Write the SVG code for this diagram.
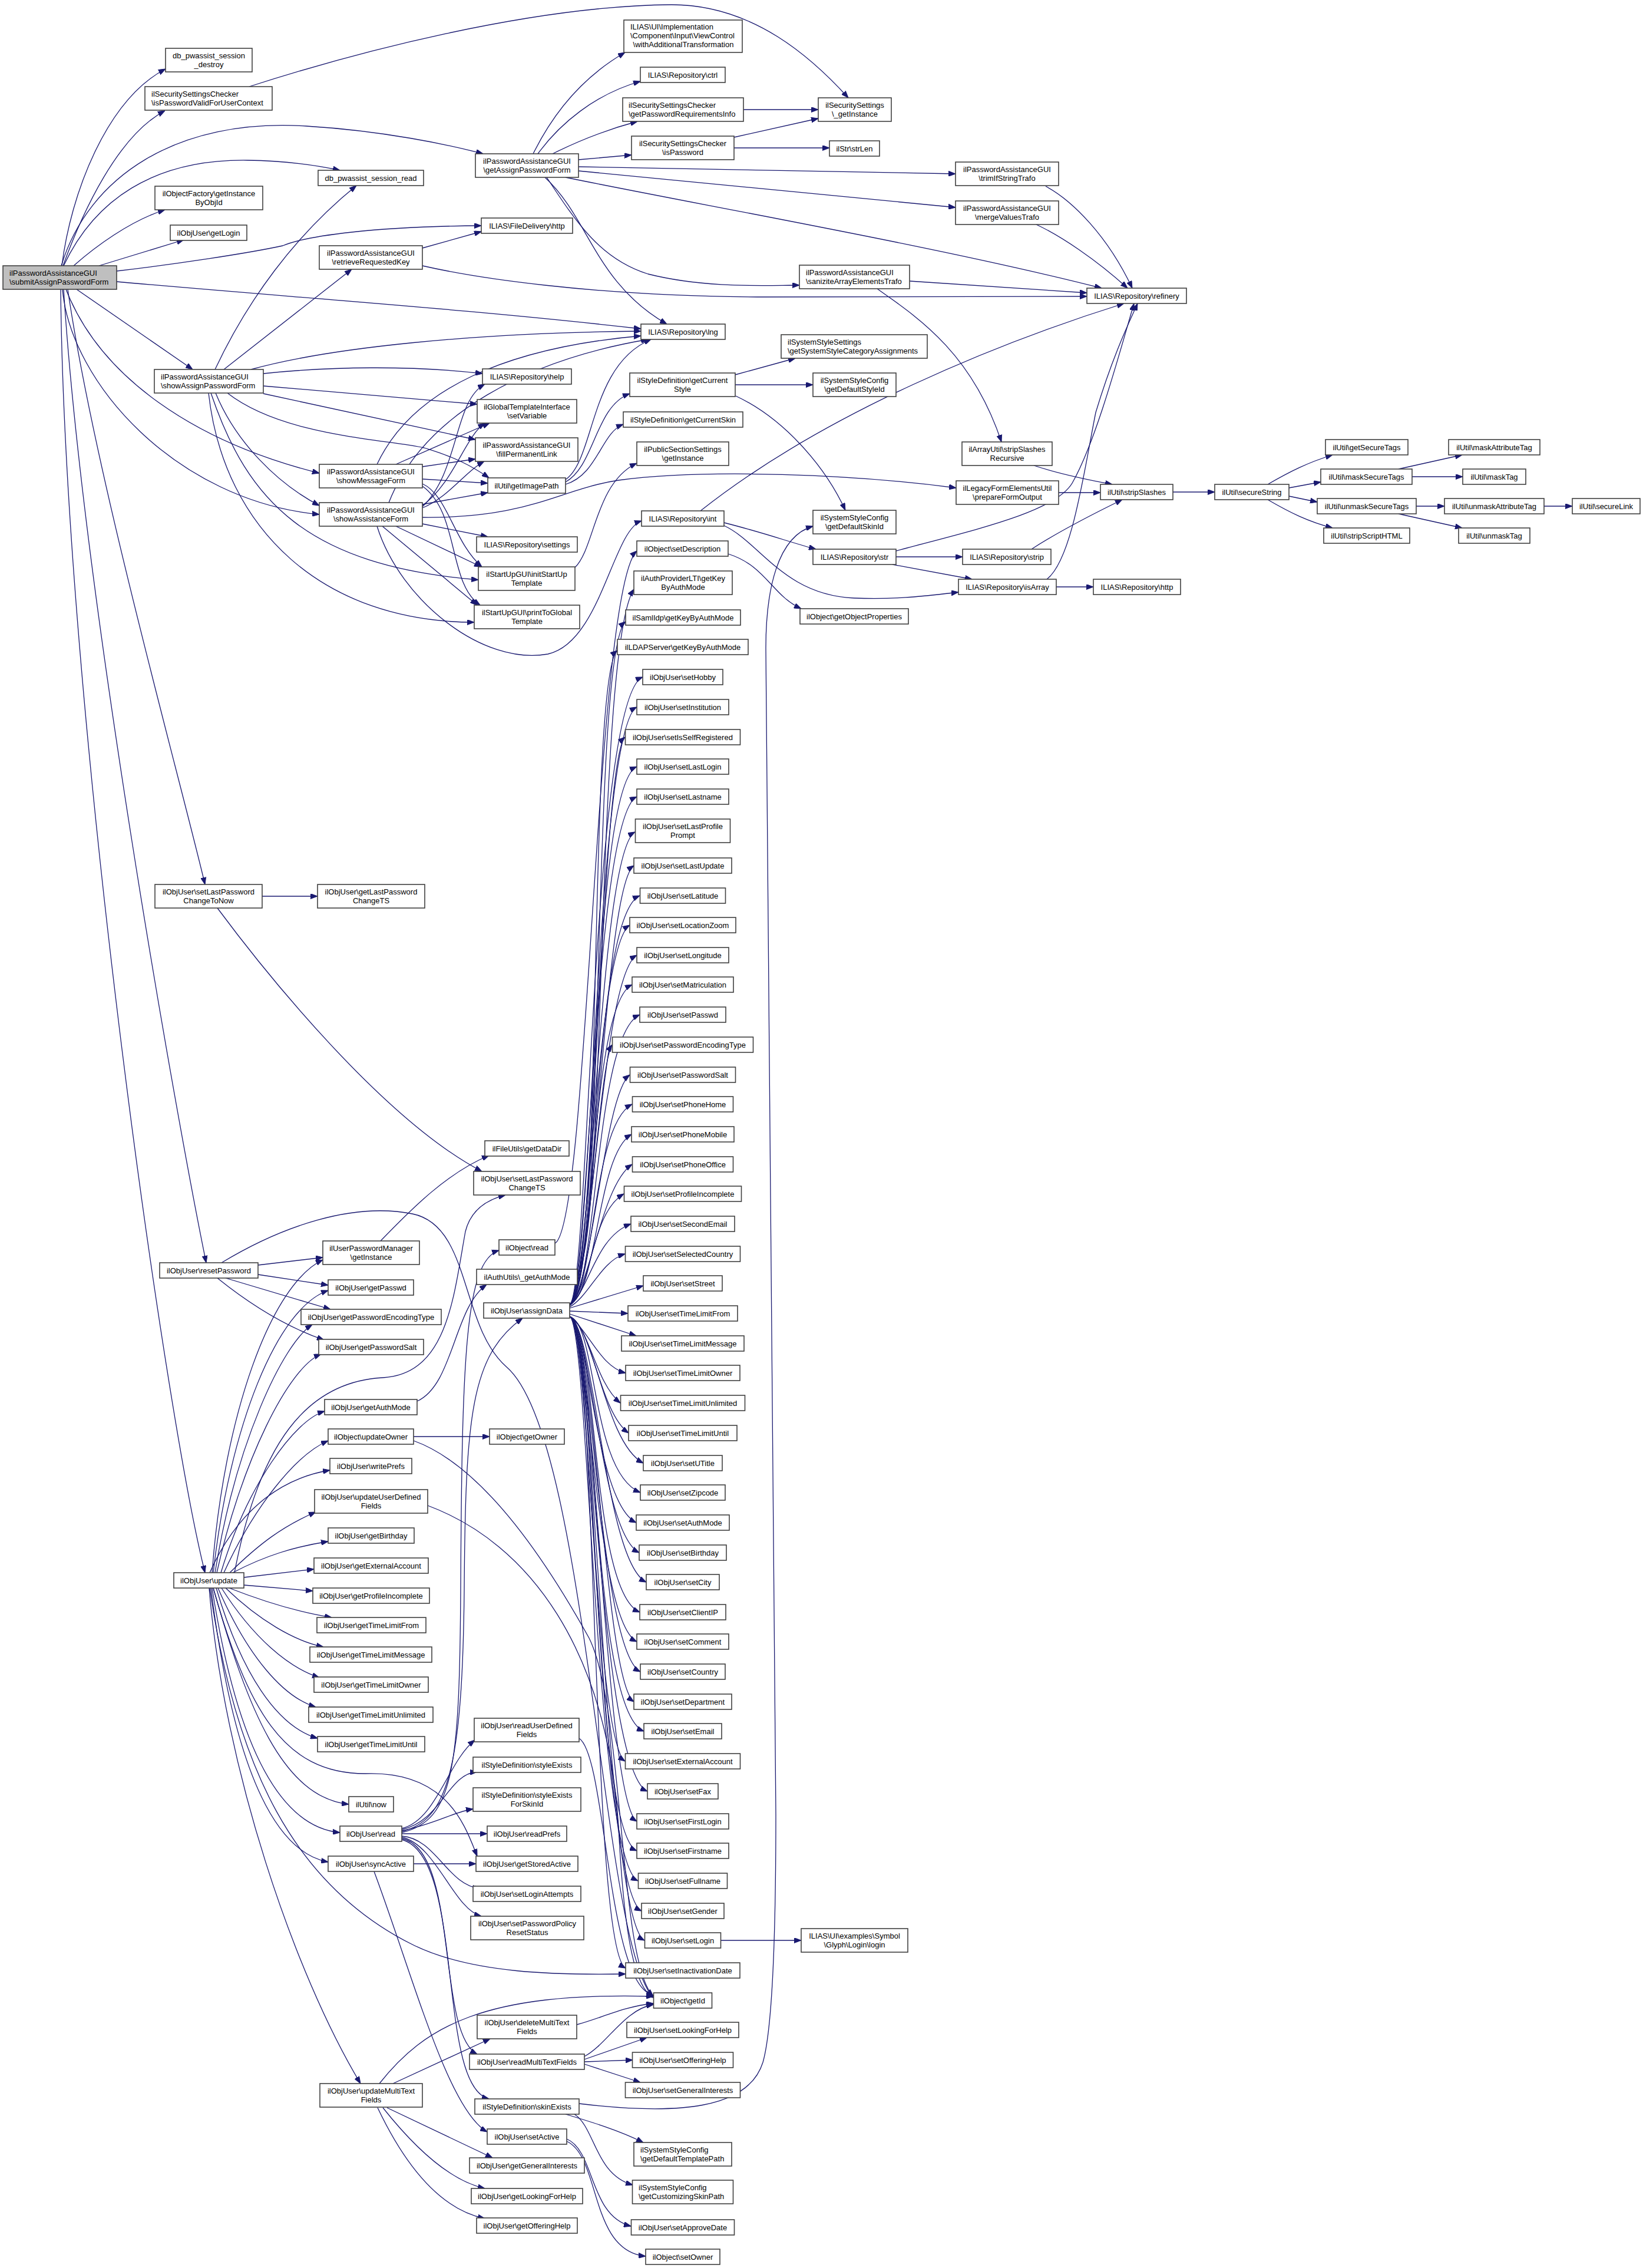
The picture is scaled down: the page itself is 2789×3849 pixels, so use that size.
<svg xmlns="http://www.w3.org/2000/svg" width="2789" height="3849" viewBox="0 0 2789 3849">
<defs>
<marker id="ah" viewBox="0 0 12 9" refX="12" refY="4.5" markerWidth="12" markerHeight="9" markerUnits="userSpaceOnUse" orient="auto"><path d="M0,0 L12,4.5 L0,9 z" fill="#191970" stroke="#191970" stroke-width="1"/></marker>
<style>
.n rect{fill:#fff;stroke:#404040;stroke-width:1.6}
.n rect.g{fill:#bfbfbf}
.n text{font-family:"Liberation Sans",Arial,sans-serif;font-size:13px;fill:#000;text-anchor:middle}
.n text.l{text-anchor:start}
#edges path{fill:none;stroke:#191970;stroke-width:1.3;marker-end:url(#ah)}
</style>
</defs>
<rect width="2789" height="3849" fill="#fff"/>
<g id="edges">
<path d="M105,451 C120,330 180,170 281,117"/>
<path d="M107,451 C140,360 200,230 280,188"/>
<path d="M104,451 C150,300 300,200 520,214 C650,222 760,245 820,261"/>
<path d="M108,451 C160,340 260,270 420,272 C490,273 540,281 577,289"/>
<path d="M125,451 C160,420 220,375 280,356"/>
<path d="M168,451 L312,407"/>
<path d="M198,460 C300,448 420,430 480,417 C520,400 640,384 817,383"/>
<path d="M198,478 C500,505 800,525 1088,558"/>
<path d="M130,491 L327,627"/>
<path d="M112,491 C170,640 330,750 542,803"/>
<path d="M106,491 C120,650 300,850 542,873"/>
<path d="M115,491 C160,800 300,1300 348,1501"/>
<path d="M108,491 C140,1000 300,1900 350,2143"/>
<path d="M103,491 C110,1200 280,2400 348,2669"/>
<path d="M423,147 C600,90 900,10 1140,8 C1280,8 1380,100 1440,166"/>
<path d="M905,261 C940,190 990,130 1061,89"/>
<path d="M913,261 C950,210 1010,160 1087,138"/>
<path d="M938,261 C980,240 1030,220 1082,206"/>
<path d="M982,271 L1072,263"/>
<path d="M982,283 L1622,295"/>
<path d="M982,290 L1622,352"/>
<path d="M960,301 C1200,350 1600,420 1870,489"/>
<path d="M928,301 C980,380 1020,440 1100,465 C1200,490 1300,484 1357,484"/>
<path d="M925,301 C1000,370 1010,480 1132,550"/>
<path d="M1246,233 L1389,201"/>
<path d="M1246,251 L1408,251"/>
<path d="M1262,186 L1389,186"/>
<path d="M1775,316 C1820,340 1880,400 1922,489"/>
<path d="M1759,381 C1800,400 1860,440 1914,489"/>
<path d="M1544,477 L1845,497"/>
<path d="M1489,490 C1560,540 1650,600 1700,750"/>
<path d="M717,451 C800,470 1000,503 1300,504 L1845,503"/>
<path d="M717,421 L817,393"/>
<path d="M365,627 C420,510 500,400 605,315"/>
<path d="M380,627 L597,457"/>
<path d="M426,627 C560,590 800,565 1088,562"/>
<path d="M447,634 C560,622 700,620 819,634"/>
<path d="M447,655 L810,686"/>
<path d="M447,668 L807,746"/>
<path d="M386,667 C480,740 650,745 720,760 C770,775 800,790 830,811"/>
<path d="M366,667 C400,750 470,820 542,858"/>
<path d="M358,667 C420,850 520,960 812,984"/>
<path d="M354,667 C380,900 550,1056 805,1056"/>
<path d="M640,788 C700,660 860,590 1088,570"/>
<path d="M672,788 L831,718"/>
<path d="M717,792 L807,779"/>
<path d="M717,813 L828,820"/>
<path d="M717,821 C760,840 770,920 818,962"/>
<path d="M717,825 C780,870 760,990 815,1027"/>
<path d="M660,853 C720,700 900,610 1100,576"/>
<path d="M717,860 C780,800 770,680 823,652"/>
<path d="M717,858 C770,820 790,740 823,718"/>
<path d="M717,862 C760,845 790,800 822,783"/>
<path d="M717,856 L828,836"/>
<path d="M717,889 L828,911"/>
<path d="M672,893 L817,962"/>
<path d="M649,893 L810,1027"/>
<path d="M717,878 C900,880 950,830 1050,815 C1200,795 1450,805 1623,828"/>
<path d="M640,893 C680,1020 820,1130 930,1110 C1020,1090 1040,900 1089,884"/>
<path d="M960,814 C1010,780 1000,620 1105,576"/>
<path d="M960,818 C1010,790 1010,690 1069,668"/>
<path d="M960,822 C1015,805 1020,735 1058,720"/>
<path d="M976,963 C1010,930 1010,820 1081,786"/>
<path d="M1248,636 L1350,608"/>
<path d="M1248,653 L1380,653"/>
<path d="M1249,672 C1330,710 1400,790 1435,866"/>
<path d="M1189,867 C1400,700 1700,580 1908,515"/>
<path d="M1229,887 C1300,905 1340,920 1385,932"/>
<path d="M1229,892 C1290,920 1330,1010 1450,1015 C1530,1018 1580,1010 1627,1005"/>
<path d="M1521,945 L1634,945"/>
<path d="M1515,958 L1650,983"/>
<path d="M1521,935 C1650,900 1790,870 1820,820 C1860,750 1900,600 1925,515"/>
<path d="M1751,932 C1800,900 1860,870 1905,848"/>
<path d="M1793,996 L1856,996"/>
<path d="M1777,983 C1820,950 1840,800 1860,700 C1890,600 1920,540 1931,515"/>
<path d="M1755,790 C1800,805 1850,815 1888,822"/>
<path d="M1797,836 L1868,836"/>
<path d="M1991,835 L2062,835"/>
<path d="M2152,822 C2190,800 2220,785 2262,772"/>
<path d="M2188,828 L2242,818"/>
<path d="M2188,842 L2236,852"/>
<path d="M2152,848 C2190,870 2220,885 2262,896"/>
<path d="M2374,796 L2482,772"/>
<path d="M2397,809 L2483,809"/>
<path d="M2404,859 L2452,859"/>
<path d="M2374,872 L2482,896"/>
<path d="M2621,859 L2669,859"/>
<path d="M1236,940 C1300,960 1310,1010 1360,1033"/>
<path d="M983,3570 C1150,3590 1270,3580 1295,3500 C1315,3430 1317,3200 1317,3080 L1300,1100 C1300,1000 1320,910 1380,893"/>
<path d="M960,3588 C1000,3600 1050,3615 1092,3636"/>
<path d="M975,3588 C1010,3610 1010,3690 1074,3708"/>
<path d="M962,3630 C1010,3650 1000,3760 1071,3778"/>
<path d="M962,3634 C1020,3660 1000,3820 1096,3829"/>
<path d="M1224,3293 L1360,3293"/>
<path d="M445,1521 L539,1521"/>
<path d="M369,1541 C450,1650 650,1900 818,1988"/>
<path d="M438,2147 L548,2134"/>
<path d="M438,2163 L557,2181"/>
<path d="M383,2169 L561,2222"/>
<path d="M369,2169 C420,2210 480,2250 550,2274"/>
<path d="M376,2143 C480,2080 600,2040 700,2060 C800,2080 780,2250 860,2320 C1000,2440 1020,3300 1109,3390"/>
<path d="M646,2106 C700,2050 760,1990 830,1961"/>
<path d="M708,2378 C770,2350 770,2220 826,2180"/>
<path d="M702,2438 L831,2438"/>
<path d="M702,2445 C800,2480 900,2600 1000,2780 C1060,2900 1050,3330 1109,3388"/>
<path d="M356,2669 C400,2570 470,2510 560,2495"/>
<path d="M390,2669 C440,2620 480,2590 536,2566"/>
<path d="M395,2669 C450,2640 500,2625 557,2616"/>
<path d="M414,2677 L533,2663"/>
<path d="M414,2690 L531,2700"/>
<path d="M389,2695 C440,2715 500,2735 563,2745"/>
<path d="M383,2695 C440,2750 500,2785 549,2795"/>
<path d="M376,2695 C430,2780 490,2830 542,2847"/>
<path d="M370,2695 C420,2810 480,2880 536,2897"/>
<path d="M367,2695 C410,2840 470,2930 539,2950"/>
<path d="M362,2695 C420,2900 480,3010 620,3010 C760,3005 790,3100 810,3150"/>
<path d="M362,2695 C420,2900 480,3050 592,3062"/>
<path d="M360,2695 C400,2950 470,3100 577,3110"/>
<path d="M358,2695 C390,2950 450,3140 557,3160"/>
<path d="M356,2695 C400,3000 500,3200 700,3300 C800,3350 950,3352 1062,3350"/>
<path d="M355,2695 C380,3000 500,3350 612,3536"/>
<path d="M360,2669 C380,2400 460,2180 548,2138"/>
<path d="M362,2669 C390,2420 470,2220 557,2190"/>
<path d="M365,2669 C400,2450 480,2280 530,2248"/>
<path d="M368,2669 C410,2480 490,2320 545,2298"/>
<path d="M375,2669 C420,2520 500,2410 551,2395"/>
<path d="M380,2669 C430,2560 500,2470 557,2445"/>
<path d="M398,2669 C440,2450 520,2345 650,2338 C760,2332 770,2200 790,2090 C800,2050 830,2035 858,2028"/>
<path d="M682,3103 C740,3090 760,2990 806,2953"/>
<path d="M682,3105 C750,3090 760,3010 810,3007"/>
<path d="M682,3107 C740,3095 770,3075 803,3070"/>
<path d="M682,3112 L827,3112"/>
<path d="M682,3116 C740,3120 760,3200 815,3205"/>
<path d="M682,3118 C740,3130 770,3240 817,3252"/>
<path d="M682,3120 C780,3140 740,3450 810,3486"/>
<path d="M682,3122 C790,3150 740,3540 830,3562"/>
<path d="M682,3108 C760,3090 785,3000 788,2700 C790,2400 800,2300 887,2237"/>
<path d="M682,3110 C770,3090 780,3000 782,2700 C784,2300 790,2140 847,2122"/>
<path d="M983,2950 C1030,2980 1030,3370 1109,3386"/>
<path d="M979,3436 C1020,3425 1060,3405 1109,3400"/>
<path d="M992,3490 C1030,3470 1060,3410 1109,3402"/>
<path d="M992,3495 L1098,3458"/>
<path d="M992,3499 L1074,3496"/>
<path d="M992,3503 L1087,3534"/>
<path d="M667,3536 L832,3460"/>
<path d="M644,3536 C720,3440 820,3380 1109,3388"/>
<path d="M657,3577 L836,3662"/>
<path d="M650,3577 C700,3640 760,3700 823,3714"/>
<path d="M641,3577 C690,3680 750,3750 823,3765"/>
<path d="M702,3163 L808,3163"/>
<path d="M635,3176 C700,3350 760,3580 827,3618"/>
<path d="M726,2555 C900,2620 1030,2800 1050,3100 C1060,3300 1080,3375 1109,3390"/>
<path d="M942,2110 C1000,2080 1010,1000 1081,935"/>
<path d="M980,2160 C1030,2120 1010,1100 1076,1000"/>
<path d="M980,2162 C1025,2120 1005,1100 1062,1055"/>
<path d="M980,2164 C1020,2120 1000,1140 1048,1104"/>
<path d="M967,2214 C1000,2195 1004,1184 1091,1149"/>
<path d="M967,2214 C1005,2195 1012,1235 1081,1200"/>
<path d="M967,2214 C1010,2195 1020,1286 1061,1251"/>
<path d="M967,2214 C1015,2195 1000,1336 1081,1301"/>
<path d="M967,2214 C1000,2195 1008,1387 1081,1352"/>
<path d="M967,2214 C1005,2195 1016,1445 1078,1412"/>
<path d="M967,2214 C1010,2195 1024,1504 1076,1469"/>
<path d="M967,2214 C1015,2195 1004,1555 1086,1520"/>
<path d="M967,2214 C1000,2195 1012,1605 1069,1570"/>
<path d="M967,2214 C1005,2195 1020,1656 1081,1621"/>
<path d="M967,2214 C1010,2195 1000,1706 1073,1671"/>
<path d="M967,2214 C1015,2195 1008,1757 1086,1722"/>
<path d="M967,2214 C1000,2195 1016,1808 1039,1773"/>
<path d="M967,2214 C1005,2195 1024,1859 1069,1824"/>
<path d="M967,2214 C1010,2195 1004,1909 1073,1874"/>
<path d="M967,2214 C1015,2195 1012,1960 1072,1925"/>
<path d="M967,2214 C1000,2195 1020,2011 1073,1976"/>
<path d="M967,2214 C1005,2195 1000,2061 1059,2026"/>
<path d="M967,2216 C1000,2190 1010,2100 1071,2077"/>
<path d="M967,2218 C1000,2200 1020,2140 1061,2128"/>
<path d="M967,2220 L1092,2182"/>
<path d="M967,2225 L1066,2229"/>
<path d="M967,2230 L1080,2267"/>
<path d="M967,2234 C1000,2260 1020,2320 1062,2330"/>
<path d="M967,2234 C1000,2250 1010,2346 1053,2381"/>
<path d="M967,2234 C1005,2250 1018,2397 1067,2432"/>
<path d="M967,2234 C1010,2250 1026,2448 1092,2483"/>
<path d="M967,2234 C1015,2250 1002,2498 1087,2533"/>
<path d="M967,2234 C1000,2250 1010,2549 1080,2584"/>
<path d="M967,2234 C1005,2250 1018,2600 1085,2635"/>
<path d="M967,2234 C1010,2250 1026,2650 1097,2685"/>
<path d="M967,2234 C1015,2250 1002,2701 1086,2736"/>
<path d="M967,2234 C1000,2250 1010,2751 1081,2786"/>
<path d="M967,2234 C1005,2250 1018,2802 1087,2837"/>
<path d="M967,2234 C1010,2250 1026,2853 1076,2888"/>
<path d="M967,2234 C1015,2250 1002,2903 1093,2938"/>
<path d="M967,2234 C1000,2250 1010,2954 1061,2989"/>
<path d="M967,2234 C1005,2250 1018,3005 1099,3040"/>
<path d="M967,2234 C1010,2250 1026,3056 1081,3091"/>
<path d="M967,2234 C1015,2250 1002,3106 1081,3141"/>
<path d="M967,2234 C1000,2250 1010,3157 1083,3192"/>
<path d="M967,2234 C1005,2250 1018,3208 1089,3243"/>
<path d="M967,2234 C1010,2250 1026,3258 1094,3293"/>
<path d="M967,2234 C1015,2250 1002,3309 1062,3340"/>
</g>
<g id="n0" class="n"><rect class="g" x="5" y="451" width="193" height="40"/><text class="l" x="16" y="468">ilPasswordAssistanceGUI</text><text class="l" x="16" y="483">\submitAssignPasswordForm</text></g>
<g id="n1" class="n"><rect x="281" y="82" width="147" height="40"/><text x="354.5" y="99">db_pwassist_session</text><text x="354.5" y="114">_destroy</text></g>
<g id="n2" class="n"><rect x="246" y="147" width="216" height="40"/><text class="l" x="257" y="164">ilSecuritySettingsChecker</text><text class="l" x="257" y="179">\isPasswordValidForUserContext</text></g>
<g id="n3" class="n"><rect x="263" y="316" width="183" height="40"/><text x="354.5" y="333">ilObjectFactory\getInstance</text><text x="354.5" y="348">ByObjId</text></g>
<g id="n4" class="n"><rect x="289" y="382" width="130" height="26"/><text x="354" y="399.5">ilObjUser\getLogin</text></g>
<g id="n5" class="n"><rect x="540" y="289" width="179" height="26"/><text x="629.5" y="306.5">db_pwassist_session_read</text></g>
<g id="n6" class="n"><rect x="542" y="417" width="175" height="40"/><text x="629.5" y="434">ilPasswordAssistanceGUI</text><text x="629.5" y="449">\retrieveRequestedKey</text></g>
<g id="n7" class="n"><rect x="262" y="627" width="185" height="40"/><text class="l" x="273" y="644">ilPasswordAssistanceGUI</text><text class="l" x="273" y="659">\showAssignPasswordForm</text></g>
<g id="n8" class="n"><rect x="807" y="261" width="175" height="40"/><text x="894.5" y="278">ilPasswordAssistanceGUI</text><text x="894.5" y="293">\getAssignPasswordForm</text></g>
<g id="n9" class="n"><rect x="817" y="370" width="155" height="26"/><text x="894.5" y="387.5">ILIAS\FileDelivery\http</text></g>
<g id="n10" class="n"><rect x="1059" y="34" width="201" height="55"/><text class="l" x="1070" y="50">ILIAS\UI\Implementation</text><text class="l" x="1070" y="65">\Component\Input\ViewControl</text><text x="1160" y="80">\withAdditionalTransformation</text></g>
<g id="n11" class="n"><rect x="1087" y="114" width="144" height="26"/><text x="1159" y="131.5">ILIAS\Repository\ctrl</text></g>
<g id="n12" class="n"><rect x="1057" y="166" width="205" height="40"/><text class="l" x="1067" y="183">ilSecuritySettingsChecker</text><text class="l" x="1067" y="198">\getPasswordRequirementsInfo</text></g>
<g id="n13" class="n"><rect x="1072" y="231" width="174" height="40"/><text x="1159" y="248">ilSecuritySettingsChecker</text><text x="1159" y="263">\isPassword</text></g>
<g id="n14" class="n"><rect x="1389" y="166" width="124" height="40"/><text x="1451" y="183">ilSecuritySettings</text><text x="1451" y="198">\_getInstance</text></g>
<g id="n15" class="n"><rect x="1408" y="239" width="85" height="26"/><text x="1450.5" y="256.5">ilStr\strLen</text></g>
<g id="n16" class="n"><rect x="1622" y="275" width="175" height="40"/><text x="1709.5" y="292">ilPasswordAssistanceGUI</text><text x="1709.5" y="307">\trimIfStringTrafo</text></g>
<g id="n17" class="n"><rect x="1622" y="341" width="175" height="40"/><text x="1709.5" y="358">ilPasswordAssistanceGUI</text><text x="1709.5" y="373">\mergeValuesTrafo</text></g>
<g id="n18" class="n"><rect x="1845" y="489" width="169" height="26"/><text x="1929.5" y="506.5">ILIAS\Repository\refinery</text></g>
<g id="n19" class="n"><rect x="1357" y="450" width="187" height="40"/><text class="l" x="1368" y="467">ilPasswordAssistanceGUI</text><text class="l" x="1368" y="482">\saniziteArrayElementsTrafo</text></g>
<g id="n20" class="n"><rect x="1088" y="550" width="143" height="26"/><text x="1159.5" y="567.5">ILIAS\Repository\lng</text></g>
<g id="n21" class="n"><rect x="1326" y="568" width="248" height="40"/><text class="l" x="1337" y="585">ilSystemStyleSettings</text><text class="l" x="1337" y="600">\getSystemStyleCategoryAssignments</text></g>
<g id="n22" class="n"><rect x="1069" y="633" width="179" height="40"/><text x="1158.5" y="650">ilStyleDefinition\getCurrent</text><text x="1158.5" y="665">Style</text></g>
<g id="n23" class="n"><rect x="1380" y="633" width="141" height="40"/><text x="1450.5" y="650">ilSystemStyleConfig</text><text x="1450.5" y="665">\getDefaultStyleId</text></g>
<g id="n24" class="n"><rect x="819" y="626" width="151" height="26"/><text x="894.5" y="643.5">ILIAS\Repository\help</text></g>
<g id="n25" class="n"><rect x="810" y="678" width="169" height="40"/><text x="894.5" y="695">ilGlobalTemplateInterface</text><text x="894.5" y="710">\setVariable</text></g>
<g id="n26" class="n"><rect x="807" y="743" width="174" height="40"/><text x="894" y="760">ilPasswordAssistanceGUI</text><text x="894" y="775">\fillPermanentLink</text></g>
<g id="n27" class="n"><rect x="542" y="788" width="175" height="40"/><text x="629.5" y="805">ilPasswordAssistanceGUI</text><text x="629.5" y="820">\showMessageForm</text></g>
<g id="n28" class="n"><rect x="828" y="811" width="132" height="26"/><text x="894" y="828.5">ilUtil\getImagePath</text></g>
<g id="n29" class="n"><rect x="542" y="853" width="175" height="40"/><text x="629.5" y="870">ilPasswordAssistanceGUI</text><text x="629.5" y="885">\showAssistanceForm</text></g>
<g id="n30" class="n"><rect x="809" y="911" width="171" height="26"/><text x="894.5" y="928.5">ILIAS\Repository\settings</text></g>
<g id="n31" class="n"><rect x="812" y="962" width="164" height="40"/><text x="894" y="979">ilStartUpGUI\initStartUp</text><text x="894" y="994">Template</text></g>
<g id="n32" class="n"><rect x="805" y="1027" width="179" height="40"/><text x="894.5" y="1044">ilStartUpGUI\printToGlobal</text><text x="894.5" y="1059">Template</text></g>
<g id="n33" class="n"><rect x="1058" y="699" width="203" height="26"/><text x="1159.5" y="716.5">ilStyleDefinition\getCurrentSkin</text></g>
<g id="n34" class="n"><rect x="1081" y="750" width="156" height="40"/><text x="1159" y="767">ilPublicSectionSettings</text><text x="1159" y="782">\getInstance</text></g>
<g id="n35" class="n"><rect x="1633" y="750" width="153" height="40"/><text x="1709.5" y="767">ilArrayUtil\stripSlashes</text><text x="1709.5" y="782">Recursive</text></g>
<g id="n36" class="n"><rect x="1623" y="816" width="174" height="40"/><text x="1710" y="833">ilLegacyFormElementsUtil</text><text x="1710" y="848">\prepareFormOutput</text></g>
<g id="n37" class="n"><rect x="1868" y="822" width="123" height="26"/><text x="1929.5" y="839.5">ilUtil\stripSlashes</text></g>
<g id="n38" class="n"><rect x="2062" y="822" width="126" height="26"/><text x="2125" y="839.5">ilUtil\secureString</text></g>
<g id="n39" class="n"><rect x="1089" y="867" width="140" height="26"/><text x="1159" y="884.5">ILIAS\Repository\int</text></g>
<g id="n40" class="n"><rect x="1380" y="866" width="141" height="40"/><text x="1450.5" y="883">ilSystemStyleConfig</text><text x="1450.5" y="898">\getDefaultSkinId</text></g>
<g id="n41" class="n"><rect x="1081" y="918" width="155" height="26"/><text x="1158.5" y="935.5">ilObject\setDescription</text></g>
<g id="n42" class="n"><rect x="1380" y="932" width="141" height="26"/><text x="1450.5" y="949.5">ILIAS\Repository\str</text></g>
<g id="n43" class="n"><rect x="1634" y="932" width="150" height="26"/><text x="1709" y="949.5">ILIAS\Repository\strip</text></g>
<g id="n44" class="n"><rect x="1076" y="969" width="167" height="40"/><text x="1159.5" y="986">ilAuthProviderLTI\getKey</text><text x="1159.5" y="1001">ByAuthMode</text></g>
<g id="n45" class="n"><rect x="1627" y="983" width="166" height="26"/><text x="1710" y="1000.5">ILIAS\Repository\isArray</text></g>
<g id="n46" class="n"><rect x="1856" y="983" width="148" height="26"/><text x="1930" y="1000.5">ILIAS\Repository\http</text></g>
<g id="n47" class="n"><rect x="1358" y="1033" width="184" height="26"/><text x="1450" y="1050.5">ilObject\getObjectProperties</text></g>
<g id="n48" class="n"><rect x="1062" y="1035" width="195" height="26"/><text x="1159.5" y="1052.5">ilSamlIdp\getKeyByAuthMode</text></g>
<g id="n49" class="n"><rect x="1048" y="1085" width="222" height="26"/><text x="1159" y="1102.5">ilLDAPServer\getKeyByAuthMode</text></g>
<g id="n50" class="n"><rect x="2250" y="746" width="140" height="26"/><text x="2320" y="763.5">ilUtil\getSecureTags</text></g>
<g id="n51" class="n"><rect x="2242" y="796" width="155" height="26"/><text x="2319.5" y="813.5">ilUtil\maskSecureTags</text></g>
<g id="n52" class="n"><rect x="2236" y="846" width="168" height="26"/><text x="2320" y="863.5">ilUtil\unmaskSecureTags</text></g>
<g id="n53" class="n"><rect x="2247" y="896" width="146" height="26"/><text x="2320" y="913.5">ilUtil\stripScriptHTML</text></g>
<g id="n54" class="n"><rect x="2459" y="746" width="155" height="26"/><text x="2536.5" y="763.5">ilUtil\maskAttributeTag</text></g>
<g id="n55" class="n"><rect x="2483" y="796" width="107" height="26"/><text x="2536.5" y="813.5">ilUtil\maskTag</text></g>
<g id="n56" class="n"><rect x="2452" y="846" width="169" height="26"/><text x="2536.5" y="863.5">ilUtil\unmaskAttributeTag</text></g>
<g id="n57" class="n"><rect x="2476" y="896" width="121" height="26"/><text x="2536.5" y="913.5">ilUtil\unmaskTag</text></g>
<g id="n58" class="n"><rect x="2669" y="846" width="115" height="26"/><text x="2726.5" y="863.5">ilUtil\secureLink</text></g>
<g id="n59" class="n"><rect x="1091" y="1136" width="136" height="26"/><text x="1159" y="1153.5">ilObjUser\setHobby</text></g>
<g id="n60" class="n"><rect x="1081" y="1187" width="156" height="26"/><text x="1159" y="1204.5">ilObjUser\setInstitution</text></g>
<g id="n61" class="n"><rect x="1061.5" y="1238" width="195" height="26"/><text x="1159" y="1255.5">ilObjUser\setIsSelfRegistered</text></g>
<g id="n62" class="n"><rect x="1081" y="1288" width="156" height="26"/><text x="1159" y="1305.5">ilObjUser\setLastLogin</text></g>
<g id="n63" class="n"><rect x="1081" y="1339" width="156" height="26"/><text x="1159" y="1356.5">ilObjUser\setLastname</text></g>
<g id="n64" class="n"><rect x="1078.5" y="1390" width="161" height="40"/><text x="1159" y="1407">ilObjUser\setLastProfile</text><text x="1159" y="1422">Prompt</text></g>
<g id="n65" class="n"><rect x="1076" y="1456" width="166" height="26"/><text x="1159" y="1473.5">ilObjUser\setLastUpdate</text></g>
<g id="n66" class="n"><rect x="1086.5" y="1507" width="145" height="26"/><text x="1159" y="1524.5">ilObjUser\setLatitude</text></g>
<g id="n67" class="n"><rect x="1069" y="1557" width="180" height="26"/><text x="1159" y="1574.5">ilObjUser\setLocationZoom</text></g>
<g id="n68" class="n"><rect x="1081" y="1608" width="156" height="26"/><text x="1159" y="1625.5">ilObjUser\setLongitude</text></g>
<g id="n69" class="n"><rect x="1073" y="1658" width="172" height="26"/><text x="1159" y="1675.5">ilObjUser\setMatriculation</text></g>
<g id="n70" class="n"><rect x="1086" y="1709" width="146" height="26"/><text x="1159" y="1726.5">ilObjUser\setPasswd</text></g>
<g id="n71" class="n"><rect x="1039.5" y="1760" width="239" height="26"/><text x="1159" y="1777.5">ilObjUser\setPasswordEncodingType</text></g>
<g id="n72" class="n"><rect x="1069.5" y="1811" width="179" height="26"/><text x="1159" y="1828.5">ilObjUser\setPasswordSalt</text></g>
<g id="n73" class="n"><rect x="1073.5" y="1861" width="171" height="26"/><text x="1159" y="1878.5">ilObjUser\setPhoneHome</text></g>
<g id="n74" class="n"><rect x="1072" y="1912" width="174" height="26"/><text x="1159" y="1929.5">ilObjUser\setPhoneMobile</text></g>
<g id="n75" class="n"><rect x="1073.5" y="1963" width="171" height="26"/><text x="1159" y="1980.5">ilObjUser\setPhoneOffice</text></g>
<g id="n76" class="n"><rect x="1059.5" y="2013" width="199" height="26"/><text x="1159" y="2030.5">ilObjUser\setProfileIncomplete</text></g>
<g id="n77" class="n"><rect x="1071" y="2064" width="176" height="26"/><text x="1159" y="2081.5">ilObjUser\setSecondEmail</text></g>
<g id="n78" class="n"><rect x="1061.5" y="2115" width="195" height="26"/><text x="1159" y="2132.5">ilObjUser\setSelectedCountry</text></g>
<g id="n79" class="n"><rect x="1092" y="2165" width="134" height="26"/><text x="1159" y="2182.5">ilObjUser\setStreet</text></g>
<g id="n80" class="n"><rect x="1066" y="2216" width="186" height="26"/><text x="1159" y="2233.5">ilObjUser\setTimeLimitFrom</text></g>
<g id="n81" class="n"><rect x="1055" y="2267" width="208" height="26"/><text x="1159" y="2284.5">ilObjUser\setTimeLimitMessage</text></g>
<g id="n82" class="n"><rect x="1062" y="2317" width="194" height="26"/><text x="1159" y="2334.5">ilObjUser\setTimeLimitOwner</text></g>
<g id="n83" class="n"><rect x="1053.5" y="2368" width="211" height="26"/><text x="1159" y="2385.5">ilObjUser\setTimeLimitUnlimited</text></g>
<g id="n84" class="n"><rect x="1067" y="2419" width="184" height="26"/><text x="1159" y="2436.5">ilObjUser\setTimeLimitUntil</text></g>
<g id="n85" class="n"><rect x="1092" y="2470" width="134" height="26"/><text x="1159" y="2487.5">ilObjUser\setUTitle</text></g>
<g id="n86" class="n"><rect x="1087" y="2520" width="144" height="26"/><text x="1159" y="2537.5">ilObjUser\setZipcode</text></g>
<g id="n87" class="n"><rect x="1080" y="2571" width="158" height="26"/><text x="1159" y="2588.5">ilObjUser\setAuthMode</text></g>
<g id="n88" class="n"><rect x="1085" y="2622" width="148" height="26"/><text x="1159" y="2639.5">ilObjUser\setBirthday</text></g>
<g id="n89" class="n"><rect x="1097" y="2672" width="124" height="26"/><text x="1159" y="2689.5">ilObjUser\setCity</text></g>
<g id="n90" class="n"><rect x="1086" y="2723" width="146" height="26"/><text x="1159" y="2740.5">ilObjUser\setClientIP</text></g>
<g id="n91" class="n"><rect x="1081" y="2773" width="156" height="26"/><text x="1159" y="2790.5">ilObjUser\setComment</text></g>
<g id="n92" class="n"><rect x="1087" y="2824" width="144" height="26"/><text x="1159" y="2841.5">ilObjUser\setCountry</text></g>
<g id="n93" class="n"><rect x="1076" y="2875" width="166" height="26"/><text x="1159" y="2892.5">ilObjUser\setDepartment</text></g>
<g id="n94" class="n"><rect x="1093" y="2925" width="132" height="26"/><text x="1159" y="2942.5">ilObjUser\setEmail</text></g>
<g id="n95" class="n"><rect x="1061.5" y="2976" width="195" height="26"/><text x="1159" y="2993.5">ilObjUser\setExternalAccount</text></g>
<g id="n96" class="n"><rect x="1099" y="3027" width="120" height="26"/><text x="1159" y="3044.5">ilObjUser\setFax</text></g>
<g id="n97" class="n"><rect x="1081" y="3078" width="156" height="26"/><text x="1159" y="3095.5">ilObjUser\setFirstLogin</text></g>
<g id="n98" class="n"><rect x="1081" y="3128" width="156" height="26"/><text x="1159" y="3145.5">ilObjUser\setFirstname</text></g>
<g id="n99" class="n"><rect x="1083.5" y="3179" width="151" height="26"/><text x="1159" y="3196.5">ilObjUser\setFullname</text></g>
<g id="n100" class="n"><rect x="1089" y="3230" width="140" height="26"/><text x="1159" y="3247.5">ilObjUser\setGender</text></g>
<g id="n101" class="n"><rect x="1094.5" y="3280" width="129" height="26"/><text x="1159" y="3297.5">ilObjUser\setLogin</text></g>
<g id="n102" class="n"><rect x="1062" y="3331" width="194" height="26"/><text x="1159" y="3348.5">ilObjUser\setInactivationDate</text></g>
<g id="n103" class="n"><rect x="1109.5" y="3382" width="99" height="26"/><text x="1159" y="3399.5">ilObject\getId</text></g>
<g id="n104" class="n"><rect x="1064" y="3432" width="190" height="26"/><text x="1159" y="3449.5">ilObjUser\setLookingForHelp</text></g>
<g id="n105" class="n"><rect x="1073.5" y="3483" width="171" height="26"/><text x="1159" y="3500.5">ilObjUser\setOfferingHelp</text></g>
<g id="n106" class="n"><rect x="1061.5" y="3534" width="195" height="26"/><text x="1159" y="3551.5">ilObjUser\setGeneralInterests</text></g>
<g id="n107" class="n"><rect x="1076" y="3636" width="166" height="40"/><text class="l" x="1087" y="3653">ilSystemStyleConfig</text><text class="l" x="1087" y="3668">\getDefaultTemplatePath</text></g>
<g id="n108" class="n"><rect x="1073.5" y="3700" width="171" height="40"/><text class="l" x="1084" y="3717">ilSystemStyleConfig</text><text class="l" x="1084" y="3732">\getCustomizingSkinPath</text></g>
<g id="n109" class="n"><rect x="1071.5" y="3767" width="175" height="26"/><text x="1159" y="3784.5">ilObjUser\setApproveDate</text></g>
<g id="n110" class="n"><rect x="1096" y="3817" width="126" height="26"/><text x="1159" y="3834.5">ilObject\setOwner</text></g>
<g id="n111" class="n"><rect x="1360" y="3273" width="181" height="40"/><text x="1450.5" y="3290">ILIAS\UI\examples\Symbol</text><text x="1450.5" y="3305">\Glyph\Login\login</text></g>
<g id="n112" class="n"><rect x="263" y="1501" width="182" height="40"/><text x="354" y="1518">ilObjUser\setLastPassword</text><text x="354" y="1533">ChangeToNow</text></g>
<g id="n113" class="n"><rect x="539" y="1501" width="182" height="40"/><text x="630" y="1518">ilObjUser\getLastPassword</text><text x="630" y="1533">ChangeTS</text></g>
<g id="n114" class="n"><rect x="823" y="1936" width="143" height="26"/><text x="894.5" y="1953.5">ilFileUtils\getDataDir</text></g>
<g id="n115" class="n"><rect x="804" y="1988" width="181" height="40"/><text x="894.5" y="2005">ilObjUser\setLastPassword</text><text x="894.5" y="2020">ChangeTS</text></g>
<g id="n116" class="n"><rect x="548" y="2106" width="164" height="40"/><text x="630" y="2123">ilUserPasswordManager</text><text x="630" y="2138">\getInstance</text></g>
<g id="n117" class="n"><rect x="847" y="2104" width="95" height="26"/><text x="894.5" y="2121.5">ilObject\read</text></g>
<g id="n118" class="n"><rect x="271" y="2143" width="167" height="26"/><text x="354.5" y="2160.5">ilObjUser\resetPassword</text></g>
<g id="n119" class="n"><rect x="809" y="2154" width="171" height="26"/><text x="894.5" y="2171.5">ilAuthUtils\_getAuthMode</text></g>
<g id="n120" class="n"><rect x="557" y="2172" width="145" height="26"/><text x="629.5" y="2189.5">ilObjUser\getPasswd</text></g>
<g id="n121" class="n"><rect x="821" y="2211" width="146" height="26"/><text x="894" y="2228.5">ilObjUser\assignData</text></g>
<g id="n122" class="n"><rect x="511" y="2222" width="238" height="26"/><text x="630" y="2239.5">ilObjUser\getPasswordEncodingType</text></g>
<g id="n123" class="n"><rect x="541" y="2273" width="178" height="26"/><text x="630" y="2290.5">ilObjUser\getPasswordSalt</text></g>
<g id="n124" class="n"><rect x="551" y="2375" width="157" height="26"/><text x="629.5" y="2392.5">ilObjUser\getAuthMode</text></g>
<g id="n125" class="n"><rect x="557" y="2425" width="145" height="26"/><text x="629.5" y="2442.5">ilObject\updateOwner</text></g>
<g id="n126" class="n"><rect x="831" y="2425" width="127" height="26"/><text x="894.5" y="2442.5">ilObject\getOwner</text></g>
<g id="n127" class="n"><rect x="560" y="2475" width="139" height="26"/><text x="629.5" y="2492.5">ilObjUser\writePrefs</text></g>
<g id="n128" class="n"><rect x="534" y="2528" width="192" height="40"/><text x="630" y="2545">ilObjUser\updateUserDefined</text><text x="630" y="2560">Fields</text></g>
<g id="n129" class="n"><rect x="557" y="2593" width="146" height="26"/><text x="630" y="2610.5">ilObjUser\getBirthday</text></g>
<g id="n130" class="n"><rect x="533" y="2644" width="194" height="26"/><text x="630" y="2661.5">ilObjUser\getExternalAccount</text></g>
<g id="n131" class="n"><rect x="295" y="2669" width="119" height="26"/><text x="354.5" y="2686.5">ilObjUser\update</text></g>
<g id="n132" class="n"><rect x="531" y="2695" width="198" height="26"/><text x="630" y="2712.5">ilObjUser\getProfileIncomplete</text></g>
<g id="n133" class="n"><rect x="538" y="2745" width="185" height="26"/><text x="630.5" y="2762.5">ilObjUser\getTimeLimitFrom</text></g>
<g id="n134" class="n"><rect x="526" y="2795" width="207" height="26"/><text x="629.5" y="2812.5">ilObjUser\getTimeLimitMessage</text></g>
<g id="n135" class="n"><rect x="533" y="2846" width="194" height="26"/><text x="630" y="2863.5">ilObjUser\getTimeLimitOwner</text></g>
<g id="n136" class="n"><rect x="524" y="2897" width="211" height="26"/><text x="629.5" y="2914.5">ilObjUser\getTimeLimitUnlimited</text></g>
<g id="n137" class="n"><rect x="539" y="2947" width="182" height="26"/><text x="630" y="2964.5">ilObjUser\getTimeLimitUntil</text></g>
<g id="n138" class="n"><rect x="805" y="2916" width="178" height="40"/><text x="894" y="2933">ilObjUser\readUserDefined</text><text x="894" y="2948">Fields</text></g>
<g id="n139" class="n"><rect x="803" y="2982" width="183" height="26"/><text x="894.5" y="2999.5">ilStyleDefinition\styleExists</text></g>
<g id="n140" class="n"><rect x="803" y="3034" width="183" height="40"/><text x="894.5" y="3051">ilStyleDefinition\styleExists</text><text x="894.5" y="3066">ForSkinId</text></g>
<g id="n141" class="n"><rect x="592" y="3049" width="76" height="26"/><text x="630" y="3066.5">ilUtil\now</text></g>
<g id="n142" class="n"><rect x="577" y="3099" width="105" height="26"/><text x="629.5" y="3116.5">ilObjUser\read</text></g>
<g id="n143" class="n"><rect x="827" y="3099" width="135" height="26"/><text x="894.5" y="3116.5">ilObjUser\readPrefs</text></g>
<g id="n144" class="n"><rect x="557" y="3150" width="145" height="26"/><text x="629.5" y="3167.5">ilObjUser\syncActive</text></g>
<g id="n145" class="n"><rect x="808" y="3150" width="173" height="26"/><text x="894.5" y="3167.5">ilObjUser\getStoredActive</text></g>
<g id="n146" class="n"><rect x="803" y="3201" width="183" height="26"/><text x="894.5" y="3218.5">ilObjUser\setLoginAttempts</text></g>
<g id="n147" class="n"><rect x="799" y="3252" width="192" height="40"/><text x="895" y="3269">ilObjUser\setPasswordPolicy</text><text x="895" y="3284">ResetStatus</text></g>
<g id="n148" class="n"><rect x="810" y="3420" width="169" height="40"/><text x="894.5" y="3437">ilObjUser\deleteMultiText</text><text x="894.5" y="3452">Fields</text></g>
<g id="n149" class="n"><rect x="797" y="3486" width="195" height="26"/><text x="894.5" y="3503.5">ilObjUser\readMultiTextFields</text></g>
<g id="n150" class="n"><rect x="543" y="3536" width="174" height="40"/><text x="630" y="3553">ilObjUser\updateMultiText</text><text x="630" y="3568">Fields</text></g>
<g id="n151" class="n"><rect x="806" y="3562" width="177" height="26"/><text x="894.5" y="3579.5">ilStyleDefinition\skinExists</text></g>
<g id="n152" class="n"><rect x="827" y="3613" width="135" height="26"/><text x="894.5" y="3630.5">ilObjUser\setActive</text></g>
<g id="n153" class="n"><rect x="797" y="3662" width="195" height="26"/><text x="894.5" y="3679.5">ilObjUser\getGeneralInterests</text></g>
<g id="n154" class="n"><rect x="800" y="3714" width="189" height="26"/><text x="894.5" y="3731.5">ilObjUser\getLookingForHelp</text></g>
<g id="n155" class="n"><rect x="809" y="3764" width="171" height="26"/><text x="894.5" y="3781.5">ilObjUser\getOfferingHelp</text></g>
</svg>
